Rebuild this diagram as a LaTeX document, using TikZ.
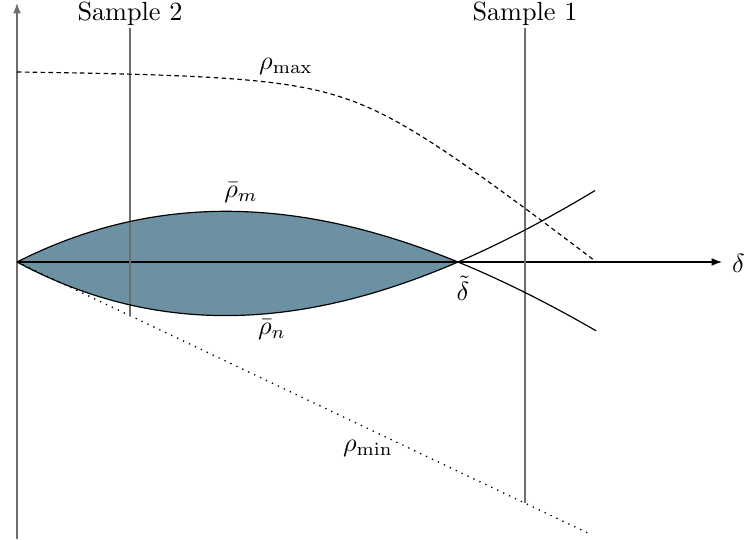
\documentclass[tikz,border=0pt]{standalone}
\usetikzlibrary{arrows.meta}
\definecolor{lensfill}{RGB}{108,145,163}
\definecolor{samplegray}{RGB}{110,110,110}
\begin{document}
\begin{tikzpicture}[x=0.381pt,y=-0.381pt,
  axisline/.style={line width=0.45pt,-{Latex[length=4pt,width=3pt]}},
  sampleline/.style={line width=0.55pt,draw=samplegray},
  curveline/.style={line width=0.45pt},
  lbl/.style={inner sep=1pt}]
\useasboundingbox (0,0) rectangle (746,539);
% coordinates
\coordinate (O) at (17,262);
\coordinate (dt) at (458,262);
\coordinate (ytip) at (17,3);
\coordinate (ybot) at (17,539);
\coordinate (xtip) at (722,262);
% lens fill
\fill[lensfill]
  plot[domain=17:458,samples=60] (\x,{262-((\x-17)/100)*(4.41-(\x-17)/100)*(11.5-0.5*(\x-17)/100)})
  -- plot[domain=458:17,samples=60] (\x,{262+((\x-17)/100)*(4.41-(\x-17)/100)*(12.2-0.55*(\x-17)/100)}) -- cycle;
% axes
\draw[axisline,draw=samplegray] (ybot) -- (ytip);
\draw[axisline] (O) -- (xtip);
\node[lbl,anchor=west] (delta) at (729,263) {$\delta$};
% rho min dotted
\coordinate (minend) at (590,534);
\draw[dotted,line width=0.5pt] (O) -- (minend);
% sample lines
\coordinate (s2top) at (130,28);
\coordinate (s2bot) at (130,316);
\coordinate (s1top) at (525,28);
\coordinate (s1bot) at (525,503);
\draw[sampleline] (s2top) -- (s2bot);
\draw[sampleline] (s1top) -- (s1bot);
\node[lbl] (samp2) at (130,14) {Sample 2};
\node[lbl] (samp1) at (525,14) {Sample 1};
% rho max dashed
\draw[dash pattern=on 1.7pt off 1.3pt,line width=0.45pt]
  plot[domain=17:597,samples=120] (\x,{72+39.3*(sqrt(((\x-357)/100)^2+0.81)+(\x-357)/100)-4.6});
% curves
\draw[curveline] plot[domain=17:596,samples=120] (\x,{262-((\x-17)/100)*(4.41-(\x-17)/100)*(11.5-0.5*(\x-17)/100)});
\draw[curveline] plot[domain=17:595,samples=120] (\x,{262+((\x-17)/100)*(4.41-(\x-17)/100)*(12.2-0.55*(\x-17)/100)});
% labels
\node[lbl] (rmax) at (286,66) {$\rho_{\max}$};
\node[lbl] (rm) at (241,193) {$\bar\rho_m$};
\node[lbl] (rn) at (272,330) {$\bar\rho_n$};
\node[lbl] (rmin) at (368,448) {$\rho_{\min}$};
\node[lbl] (dtl) at (463,288) {$\tilde\delta$};
\end{tikzpicture}
\end{document}
